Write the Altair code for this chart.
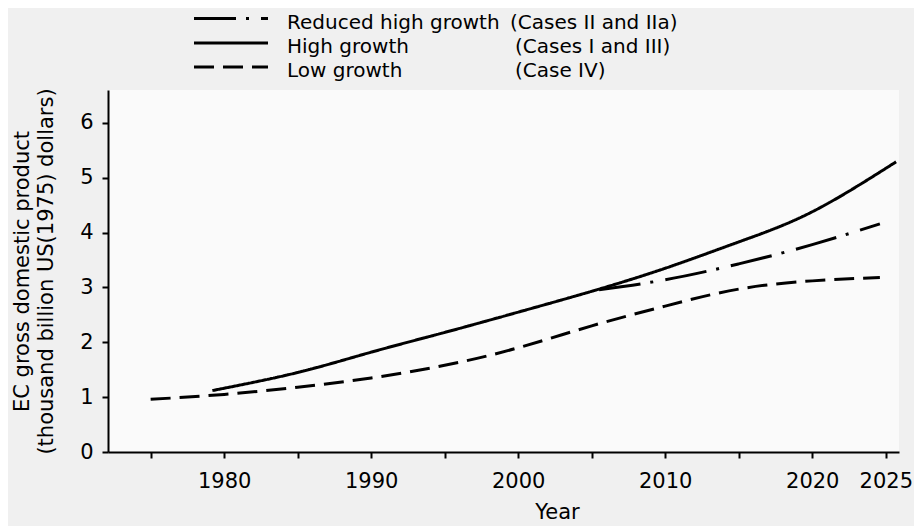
import altair as alt
import pandas as pd

# ---- data ----
years_high = [1979.2, 1985, 1990, 1995, 2000, 2005, 2010, 2015, 2020, 2025.7]
gdp_high = [1.12, 1.45, 1.82, 2.18, 2.55, 2.93, 3.35, 3.83, 4.38, 5.29]

years_reduced = [2005.5, 2010, 2015, 2020, 2024.6]
gdp_reduced = [2.96, 3.14, 3.43, 3.78, 4.16]

years_low = [1975, 1980, 1985, 1990, 1995, 2000, 2005, 2010, 2015, 2020, 2024.6]
gdp_low = [0.96, 1.05, 1.18, 1.35, 1.58, 1.90, 2.30, 2.66, 2.97, 3.12, 3.18]

series_names = ["Reduced high growth", "High growth", "Low growth"]
series_cases = ["(Cases II and IIa)", "(Cases I and III)", "(Case IV)"]

x_ticks = [1975, 1980, 1985, 1990, 1995, 2000, 2005, 2010, 2015, 2020, 2025]
x_labelled = [1980, 1990, 2000, 2010, 2020, 2025]
y_ticks = [0, 1, 2, 3, 4, 5, 6]

y_title = ["EC gross domestic product", "(thousand billion US(1975) dollars)"]
x_title = "Year"

# ---- build table ----
rows = []
for yr, v in zip(years_reduced, gdp_reduced):
    rows.append({"year": yr, "gdp": v, "series": series_names[0]})
for yr, v in zip(years_high, gdp_high):
    rows.append({"year": yr, "gdp": v, "series": series_names[1]})
for yr, v in zip(years_low, gdp_low):
    rows.append({"year": yr, "gdp": v, "series": series_names[2]})
df = pd.DataFrame(rows)

FONT = "DejaVu Sans"
FS = 21
LFS = 20
dashes = [[42, 10, 3, 12], [1, 0], [20, 9]]

label_expr = "indexof([" + ",".join(str(v) for v in x_labelled) + "], datum.value) >= 0 ? datum.label : ''"

lines = alt.Chart(df).mark_line(
    color="black", strokeWidth=3, interpolate="natural", strokeCap="butt"
).encode(
    x=alt.X("year:Q",
            scale=alt.Scale(domain=[1972.1, 2025.9], nice=False, zero=False),
            axis=alt.Axis(values=x_ticks, format="d", labelExpr=label_expr,
                          labelOverlap=False, labelFlush=False,
                          grid=False, domainColor="black", domainWidth=2,
                          tickColor="black", tickWidth=2, tickSize=6,
                          labelPadding=12, labelFont=FONT, labelFontSize=FS,
                          labelColor="black",
                          title=x_title, titleFont=FONT, titleFontSize=FS,
                          titleFontWeight="normal", titleColor="black",
                          titleX=449, titleY=66, titleBaseline="alphabetic",
                          titleAlign="center")),
    y=alt.Y("gdp:Q",
            scale=alt.Scale(domain=[0, 6.6], nice=False),
            axis=alt.Axis(values=y_ticks, format="d", grid=False,
                          domainColor="black", domainWidth=2,
                          tickColor="black", tickWidth=2, tickSize=6,
                          labelPadding=9, labelFont=FONT, labelFontSize=FS,
                          labelColor="black",
                          title=y_title, titleFont=FONT, titleFontSize=FS,
                          titleFontWeight="normal", titleColor="black",
                          titleX=-80, titleBaseline="alphabetic",
                          titleLineHeight=24)),
    strokeDash=alt.StrokeDash("series:N",
                              scale=alt.Scale(domain=series_names, range=dashes),
                              legend=None),
    detail="series:N",
)

# ---- hand-made legend above the plot ----
sym_y = [-71.5, -47, -23]
txt_y = [-61, -37, -13]
case_x = [402, 407, 407]
legend_layers = []
for i in range(3):
    d = pd.DataFrame({"name": [series_names[i]], "case": [series_cases[i]]})
    legend_layers.append(
        alt.Chart(d).mark_rule(color="black", strokeWidth=3, strokeDash=dashes[i],
                               strokeCap="butt").encode(
            x=alt.value(86), x2=alt.value(160), y=alt.value(sym_y[i]))
    )
    legend_layers.append(
        alt.Chart(d).mark_text(align="left", baseline="alphabetic", font=FONT,
                               fontSize=LFS, color="black").encode(
            x=alt.value(179), y=alt.value(txt_y[i]), text="name:N")
    )
    legend_layers.append(
        alt.Chart(d).mark_text(align="left", baseline="alphabetic", font=FONT,
                               fontSize=LFS, color="black").encode(
            x=alt.value(case_x[i]), y=alt.value(txt_y[i]), text="case:N")
    )

chart = alt.layer(lines, *legend_layers).properties(
    width=791, height=362,
    padding={"left": 100, "top": 82, "right": 15, "bottom": 74},
    autosize=alt.AutoSizeParams(type="none"),
    background="#f0f0f0",
).configure_view(stroke=None, fill="#fafafa")

chart.save("out.html", embed_options={"renderer": "svg", "actions": False})
